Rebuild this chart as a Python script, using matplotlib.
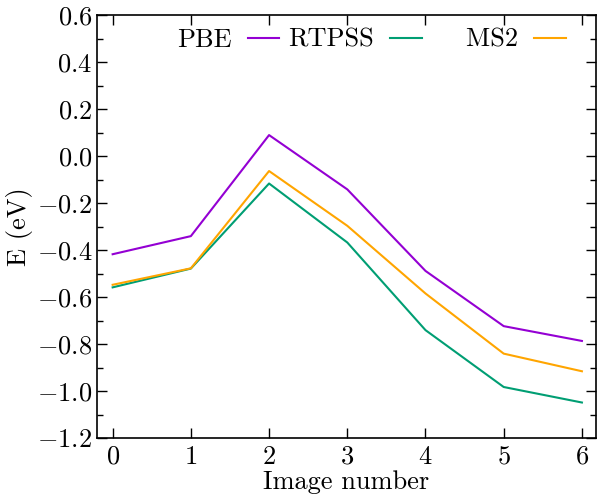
import numpy as np
import matplotlib
matplotlib.use('Agg')
import matplotlib.pyplot as plt
from matplotlib.ticker import MultipleLocator, FuncFormatter

# energia a lo largo del camino (eV) para cada funcional
image = [0, 1, 2, 3, 4, 5, 6]
pbe = [-0.418, -0.341, 0.089, -0.142, -0.489, -0.724, -0.787]
rtpss = [-0.559, -0.479, -0.117, -0.368, -0.741, -0.983, -1.049]
ms2 = [-0.548, -0.478, -0.064, -0.297, -0.585, -0.841, -0.916]

labels = ['PBE', 'RTPSS', '    MS2']
colors = ['#9400d3', '#009e73', '#ffa500']

fs = 19
plt.rcParams['font.family'] = 'serif'
plt.rcParams['font.serif'] = ['cmr10']
plt.rcParams['mathtext.fontset'] = 'cm'
plt.rcParams['axes.formatter.use_mathtext'] = True
plt.rcParams['font.size'] = fs

fig = plt.figure(figsize=(5.97, 4.95), dpi=100)
ax = fig.add_axes([97/597, 57/495, 499/597, 423/495])

for y, lab, c in zip([pbe, rtpss, ms2], labels, colors):
    ax.plot(image, y, '-', color=c, lw=1.5, label=lab)

ax.set_xlim(-0.2, 6.18)
ax.set_ylim(-1.2, 0.6)
ax.xaxis.set_major_locator(MultipleLocator(1))
ax.xaxis.set_major_formatter(FuncFormatter(lambda v, p: '$%d$' % round(v)))
ax.yaxis.set_major_locator(MultipleLocator(0.2))
ax.yaxis.set_minor_locator(MultipleLocator(0.1))
ax.yaxis.set_major_formatter(FuncFormatter(lambda v, p: '$%.1f$' % (0.0 if abs(v) < 1e-9 else v)))
ax.tick_params(which='both', direction='in', top=True, right=True, labelsize=fs, width=1)
ax.tick_params(which='major', length=7)
ax.tick_params(which='minor', length=4)
ax.tick_params(axis='x', pad=5)
for s in ax.spines.values():
    s.set_linewidth(1.2)

ax.set_xlabel('Image number', fontsize=fs, labelpad=1)
ax.set_ylabel('E (eV)', fontsize=fs, labelpad=3)
ax.legend(loc='upper center', ncol=3, frameon=False, markerfirst=False,
          handlelength=1.2, handletextpad=0.6, columnspacing=0.35,
          fontsize=fs, borderaxespad=0.1, bbox_to_anchor=(0.55, 1.0))

plt.savefig('out.png', dpi=100)
